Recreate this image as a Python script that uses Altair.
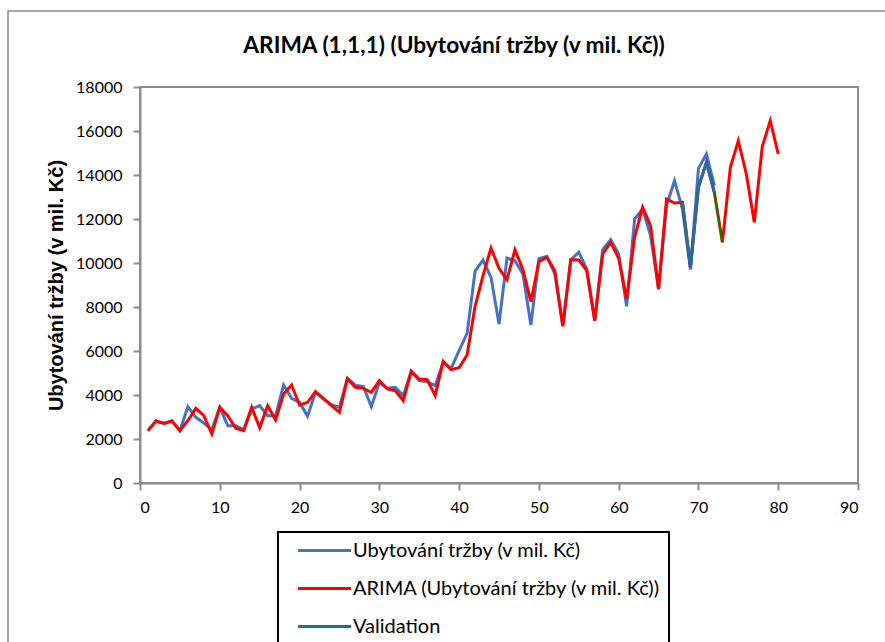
import altair as alt
import pandas as pd

# Period index
periods = list(range(1, 81))

actual = [2379, 2818, 2712, 2818, 2379, 3470, 2985, 2727, 2424, 3439,
          2606, 2606, 2424, 3364, 3515, 3061, 3061, 4455, 3848, 3667,
          3030, 4121, 3818, 3561, 3439, 4758, 4439, 4379, 3470, 4576,
          4303, 4348, 3970, 5076, 4652, 4606, 4424, 5485, 5212, 6015,
          6803, 9621, 10136, 9348, 7227, 10227, 10106, 9500, 7182, 10197,
          10303, 9500, 7150, 10152, 10485, 9727, 7379, 10606, 11061, 10409,
          8030, 12000, 12455, 11242, 8818, 12606, 13742, 12455, 9697, 14303,
          14955, 13515]

arima = [2379, 2818, 2712, 2818, 2379, 2833, 3394, 3061, 2227, 3439,
         3061, 2485, 2379, 3439, 2515, 3515, 2864, 4045, 4455, 3545,
         3667, 4152, 3848, 3515, 3212, 4727, 4348, 4303, 4121, 4652,
         4273, 4197, 3742, 5076, 4727, 4697, 3970, 5530, 5152, 5242,
         5818, 8030, 9424, 10682, 9758, 9242, 10606, 9697, 8242, 10061,
         10258, 9652, 7121, 10152, 10136, 9652, 7379, 10409, 10939, 10212,
         8364, 11167, 12530, 11697, 8818, 12909, 12727, 12758, 9803, 13439,
         14576, 13200, 10939, 14348, 15561, 14045, 11848, 15288, 16470, 14955]

validation_periods = [68, 69, 70, 71, 72]
validation = [12758, 9803, 13439, 14576, 13200]

link_periods = [72, 73]
link_values = [13200, 10939]

series_names = ["Ubytování tržby (v mil. Kč)",
                "ARIMA (Ubytování tržby (v mil. Kč))",
                "Validation"]
series_colors = ["#4472C4", "#FF0000", "#1F6E9E"]

df_actual = pd.DataFrame({"t": periods[:len(actual)], "v": actual, "s": series_names[0]})
df_arima = pd.DataFrame({"t": periods, "v": arima, "s": series_names[1]})
df_val = pd.DataFrame({"t": validation_periods, "v": validation, "s": series_names[2]})
df_link = pd.DataFrame({"t": link_periods, "v": link_values})

FONT = "Lato"
GRAY = "#8c8c8c"

x_enc = alt.X("t:Q", scale=alt.Scale(domain=[0, 90], nice=False),
              axis=alt.Axis(values=list(range(0, 91, 10)), title=None,
                            format="d", grid=False))
y_enc = alt.Y("v:Q", scale=alt.Scale(domain=[0, 18000], nice=False),
              axis=alt.Axis(values=list(range(0, 18001, 2000)), format="d",
                            grid=False,
                            title="Ubytování tržby (v mil. Kč)"))
color_enc = alt.Color("s:N",
                      scale=alt.Scale(domain=series_names, range=series_colors),
                      legend=alt.Legend(title=None, orient="none",
                                        legendX=138, legendY=445,
                                        symbolType="M-3,0H3", symbolSize=313,
                                        symbolStrokeWidth=3, symbolOffset=28,
                                        labelFont=FONT, labelFontSize=20,
                                        labelColor="black", labelOffset=18,
                                        rowPadding=17, padding=8,
                                        strokeColor="black",
                                        labelLimit=600))

frame = alt.Chart(alt.Data(values=[{"a": 1}])).mark_rect(
    fill="white", fillOpacity=0, stroke=GRAY, strokeWidth=1.5
).encode(x=alt.value(-132), x2=alt.value(2000), y=alt.value(-76), y2=alt.value(2000))

line_actual = alt.Chart(df_actual).mark_line(strokeWidth=3).encode(
    x=x_enc, y=y_enc, color=color_enc)
line_arima = alt.Chart(df_arima).mark_line(strokeWidth=3).encode(
    x=x_enc, y=y_enc, color=color_enc)
line_val = alt.Chart(df_val).mark_line(strokeWidth=3).encode(
    x=x_enc, y=y_enc, color=color_enc)
line_link = alt.Chart(df_link).mark_line(strokeWidth=2, color="#008000").encode(
    x=x_enc, y=y_enc)

chart = alt.layer(frame, line_actual, line_arima, line_val, line_link).properties(
    width=718, height=396,
    background="white",
    autosize=alt.AutoSizeParams(type="none"),
    padding={"left": 140, "top": 87, "right": 27, "bottom": 159},
    title=alt.TitleParams("ARIMA (1,1,1) (Ubytování tržby (v mil. Kč))",
                          font=FONT, fontSize=22.7, fontWeight="bold",
                          color="black", anchor="middle", frame="group",
                          dx=-45, offset=-47),
).configure_view(stroke=GRAY, strokeWidth=2).configure_axis(
    domainColor=GRAY, domainWidth=2, tickColor=GRAY, tickWidth=2, tickSize=7,
    labelFont=FONT, labelFontSize=16, labelColor="black",
    titleFont="Liberation Sans", titleFontSize=20, titleFontWeight="bold",
    titleColor="black", grid=False
).configure_axisY(labelPadding=11, titlePadding=9).configure_axisX(
    labelPadding=9
).configure_legend(strokeWidth=2)

chart.save("out.html", embed_options={"renderer": "svg", "actions": False})
